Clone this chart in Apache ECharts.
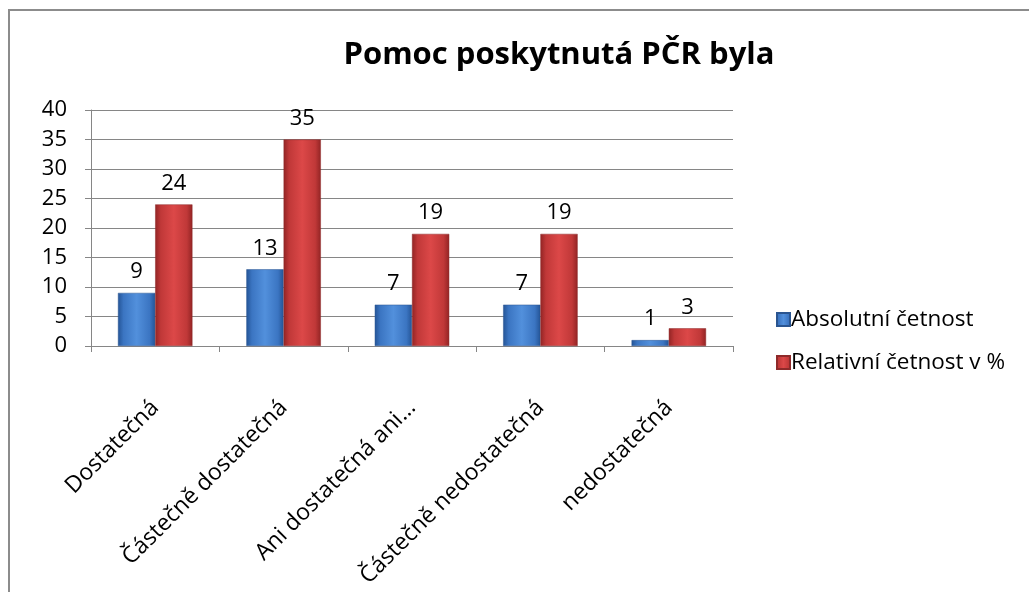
<!DOCTYPE html>
<html>
<head>
<meta charset="utf-8">
<script src="https://cdn.jsdelivr.net/npm/echarts@6/dist/echarts.min.js"></script>
<style>
  html, body { margin: 0; padding: 0; background: #fff; }
  #container { width: 1029px; height: 592px; }
</style>
</head>
<body>
<div id="container"></div>
<script>
var categories = ['Dostatečná', 'Částečně dostatečná', 'Ani dostatečná ani…', 'Částečně nedostatečná', 'nedostatečná'];
var absolutni = [9, 13, 7, 7, 1];
var relativni = [24, 35, 19, 19, 3];
var seriesNames = ['Absolutní četnost', 'Relativní četnost v %'];

var FONT = 'Open Sans';

function barColor(dark, mid, light) {
  return new echarts.graphic.LinearGradient(0, 0, 1, 0, [
    { offset: 0, color: dark },
    { offset: 0.15, color: mid },
    { offset: 0.5, color: light },
    { offset: 0.85, color: mid },
    { offset: 1, color: dark }
  ]);
}

var dom = document.getElementById('container');
var myChart = echarts.init(dom);
var option = {
  backgroundColor: '#fff',
  animation: false,
  textStyle: { fontFamily: FONT, color: '#000' },
  title: {
    text: 'Pomoc poskytnutá PČR byla',
    left: 554,
    textAlign: 'center',
    top: 35,
    textStyle: { fontFamily: FONT, fontSize: 31, fontWeight: 'bold', color: '#000' }
  },
  graphic: [{
    type: 'rect',
    shape: { x: 9, y: 10, width: 1100, height: 700 },
    style: { fill: 'none', stroke: '#8c8c8c', lineWidth: 2 },
    silent: true
  }],
  legend: {
    orient: 'vertical',
    left: 771,
    top: 303,
    itemGap: 20,
    itemWidth: 13,
    itemHeight: 13,
    icon: 'rect',
    textStyle: { fontFamily: FONT, fontSize: 22.5, color: '#000', padding: [0, 0, 0, -4] },
    data: seriesNames
  },
  grid: { left: 91, top: 110, right: 296, bottom: 246, containLabel: false },
  xAxis: {
    type: 'category',
    data: categories,
    axisLine: { lineStyle: { color: '#868686', width: 1 } },
    axisTick: { show: true, length: 6, lineStyle: { color: '#868686' } },
    axisLabel: { rotate: 45, margin: 58, fontFamily: FONT, fontSize: 23, color: '#000' }
  },
  yAxis: {
    type: 'value',
    min: 0,
    max: 40,
    interval: 5,
    axisLine: { show: true, lineStyle: { color: '#868686' } },
    axisTick: { show: true, length: 6, lineStyle: { color: '#868686' } },
    splitLine: { lineStyle: { color: '#868686', width: 1 } },
    axisLabel: { margin: 24, fontFamily: FONT, fontSize: 22, color: '#000' }
  },
  series: [
    {
      name: seriesNames[0],
      type: 'bar',
      data: absolutni,
      barGap: '0%',
      barCategoryGap: '42%',
      itemStyle: { color: barColor('#245496', '#3b75c2', '#5290dc'), borderColor: '#2a5590', borderWidth: 0.5 },
      label: { show: true, position: 'top', distance: 10, fontFamily: FONT, fontSize: 22, color: '#000' }
    },
    {
      name: seriesNames[1],
      type: 'bar',
      data: relativni,
      itemStyle: { color: barColor('#922424', '#c03838', '#dc4848'), borderColor: '#8e2a2a', borderWidth: 0.5 },
      label: { show: true, position: 'top', distance: 10, fontFamily: FONT, fontSize: 22, color: '#000' }
    }
  ]
};
if (option && typeof option === 'object') {
  myChart.setOption(option, true);
}
</script>
</body>
</html>
